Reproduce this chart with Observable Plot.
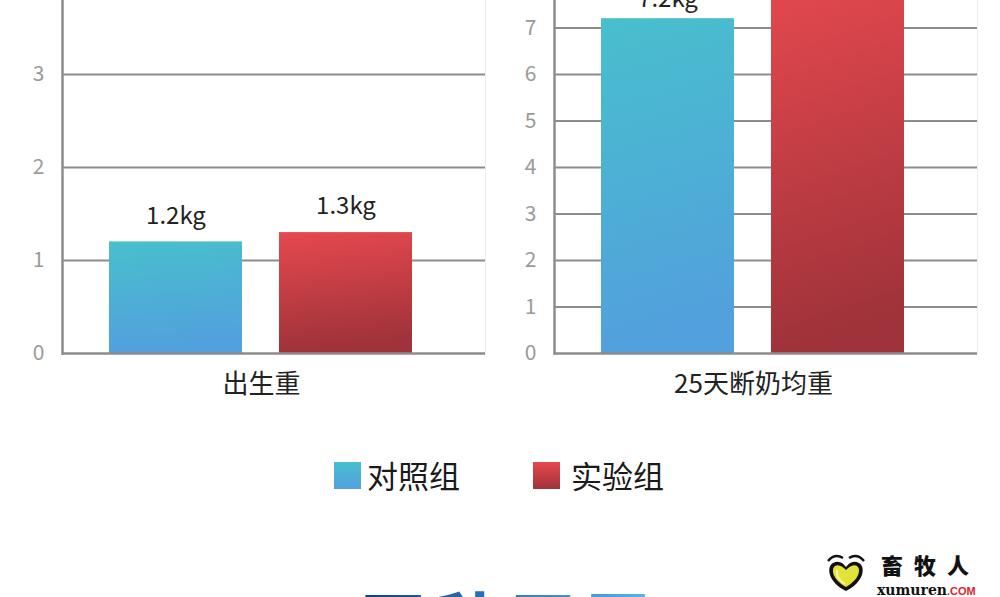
<!DOCTYPE html>
<html><head><meta charset="utf-8">
<script src="https://cdn.jsdelivr.net/npm/d3@7"></script>
<script src="https://cdn.jsdelivr.net/npm/@observablehq/plot@0.6"></script>
<style>
body{margin:0;background:#fff;}
#root{position:relative;width:1000px;height:597px;overflow:hidden;background:#fff;font-family:"Noto Sans CJK SC","Noto Sans",sans-serif;}
.panel{position:absolute;top:-39px;}
.legend-item{position:absolute;top:455px;display:flex;align-items:center;font-size:31px;color:#1a1a1a;line-height:40px;}
.swatch{width:27px;height:27px;}
#overlay{position:absolute;left:0;top:0;}
</style></head><body>
<svg width="0" height="0" style="position:absolute">
  <defs>
    <linearGradient id="gradCtrl" x1="0" y1="0" x2="0.12" y2="1">
      <stop offset="0" stop-color="#48bfcd"/><stop offset="1" stop-color="#52a0dd"/>
    </linearGradient>
    <linearGradient id="gradExp" x1="0" y1="0" x2="0.12" y2="1">
      <stop offset="0" stop-color="#e5494e"/><stop offset="1" stop-color="#9f323a"/>
    </linearGradient>
    <linearGradient id="gradHead" x1="0" y1="0" x2="1" y2="0">
      <stop offset="0" stop-color="#0a3f8f"/><stop offset="1" stop-color="#5cb6ec"/>
    </linearGradient>
  </defs>
</svg>
<div id="root"></div>
<script>
const groups = ["对照组", "实验组"];
const categories = ["出生重", "25天断奶均重"];
const birthWeight = [1.2, 1.3];
const weaningWeight = [7.2, 8.0];
const yDomainBirth = [0, 4];
const yDomainWeaning = [0, 8];
const yTicksBirth = [0, 1, 2, 3];
const yTicksWeaning = [0, 1, 2, 3, 4, 5, 6, 7];
const unit = "kg";
const heading = "两种不同";
const logoName = "畜牧人";
const logoSite = "xumuren";
const logoTld = ".COM";

const fills = {"对照组": "url(#gradCtrl)", "实验组": "url(#gradExp)"};
const font = '"Noto Sans CJK SC","Noto Sans",sans-serif';

function panel(category, values, domain, ticks, labelDy) {
  const data = groups.map((g, i) => ({group: g, value: values[i]}));
  return Plot.plot({
    width: 500, height: 452,
    marginLeft: 62, marginRight: 15, marginTop: 20, marginBottom: 60,
    style: {background: "transparent", fontFamily: font, overflow: "visible"},
    x: {domain: groups, range: [62, 459], paddingInner: 37 / 171, paddingOuter: 46 / 171, axis: null},
    y: {domain, axis: null},
    marks: [
      Plot.frame({stroke: "#ededed", strokeWidth: 1}),
      Plot.ruleY(ticks.filter(t => t > 0), {stroke: "#8c8c8c", strokeWidth: 2}),
      ...groups.map(g => Plot.barY(data.filter(d => d.group === g), {x: "group", y: "value", fill: fills[g]})),
      Plot.ruleY([0], {stroke: "#8c8c8c", strokeWidth: 2.5}),
      Plot.frame({anchor: "left", stroke: "#8c8c8c", strokeWidth: 2.5}),
      Plot.axisY(ticks, {tickSize: 0, tickPadding: 18, fontSize: 21, fill: "#9a9a9a", label: null, tickFormat: d => String(d)}),
      Plot.text(data, {x: "group", y: "value", text: d => d.value + unit, dy: labelDy, fontSize: 24, fill: "#222"}),
      Plot.text([category], {frameAnchor: "bottom", dx: -12.5, dy: 39, fontSize: 26, fill: "#222"})
    ]
  });
}

const root = document.getElementById("root");
const left = panel(categories[0], birthWeight, yDomainBirth, yTicksBirth, -26);
left.classList.add("panel"); left.style.left = "0px";
root.appendChild(left);
const right = panel(categories[1], weaningWeight, yDomainWeaning, yTicksWeaning, -19);
right.classList.add("panel"); right.style.left = "492px";
root.appendChild(right);

// legend
const legendPos = [334, 533];
const legendBg = ["linear-gradient(#48bfcd,#52a0dd)", "linear-gradient(#e5494e,#9f323a)"];
const legendGap = [6, 11];
groups.forEach((g, i) => {
  const item = document.createElement("div");
  item.className = "legend-item";
  item.style.left = legendPos[i] + "px";
  const sw = document.createElement("div");
  sw.className = "swatch";
  sw.style.background = legendBg[i];
  sw.style.marginRight = legendGap[i] + "px";
  item.appendChild(sw);
  const t = document.createElement("span");
  t.textContent = g;
  item.appendChild(t);
  root.appendChild(item);
});

// overlay: logo + cut-off heading
const ns = "http://www.w3.org/2000/svg";
const ov = document.createElementNS(ns, "svg");
ov.setAttribute("id", "overlay");
ov.setAttribute("width", 1000); ov.setAttribute("height", 597);
ov.innerHTML = `
  <text x="362" y="645" font-size="62" font-weight="900" letter-spacing="13" fill="url(#gradHead)" font-family='${font}'>${heading}</text>
  <path d="M828,561 Q835,553 843,558" fill="none" stroke="#111" stroke-width="2.5"/>
  <path d="M864,561 Q857,553 849,558" fill="none" stroke="#111" stroke-width="2.5"/>
  <path d="M846,591 C828,582 826,567 833,563 C839,560 843,563 846,567 C849,563 853,560 859,563 C866,567 864,582 846,591 Z" fill="#111"/>
  <path d="M846,587 C832,579 831,569 835,566 C839,564 843,567 846,570 C849,567 853,564 857,566 C861,569 860,579 846,587 Z" fill="#e3e23a"/>
  <path d="M837,570 C836,576 840,581 845,584" fill="none" stroke="#f6f6a0" stroke-width="2"/>
  <text x="881" y="574" font-size="22" font-weight="900" letter-spacing="11" fill="#111" font-family='"Noto Sans CJK SC",sans-serif'>${logoName}</text>
  <text x="877" y="595" font-size="14" font-weight="bold" fill="#111" font-family='"DejaVu Serif",serif'>${logoSite}<tspan font-size="11" fill="#d9262c" font-family='"Liberation Sans",sans-serif'>${logoTld}</tspan></text>
`;
root.appendChild(ov);
</script>
</body></html>
